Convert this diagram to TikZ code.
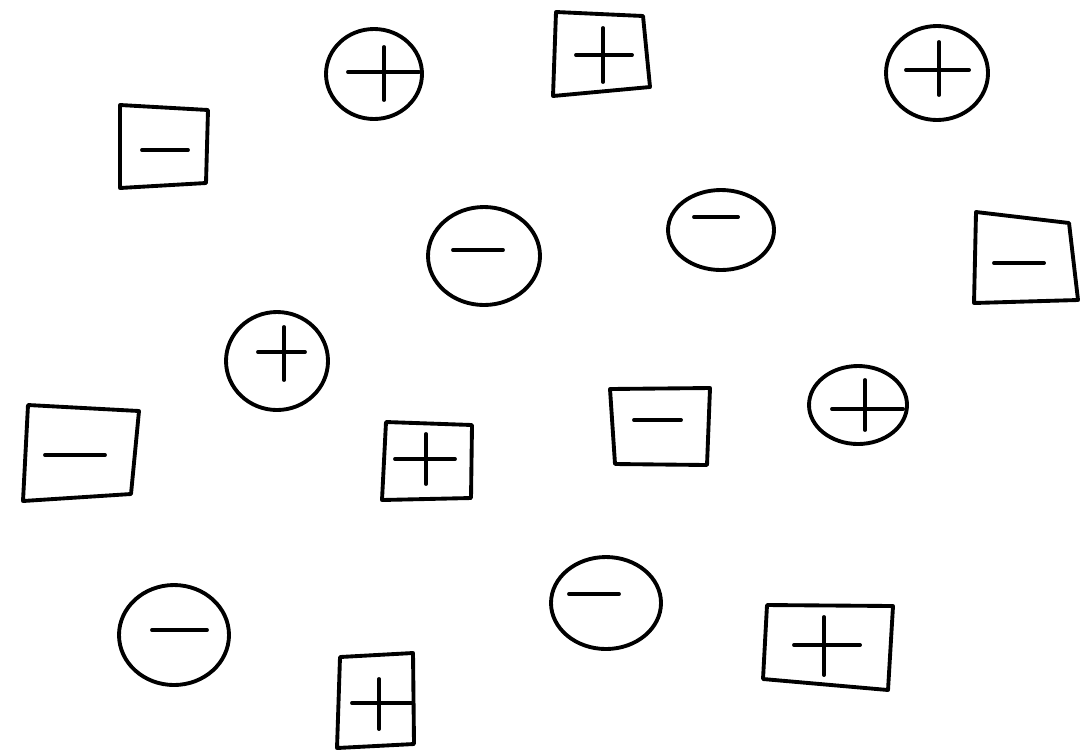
\documentclass[tikz,border=0pt]{standalone}
\usepackage{tikz}
\tikzset{
  stroke/.style = {draw, line width=1.1pt, line cap=round, line join=round},
  sign/.style   = {line width=1.1pt, line cap=round},
}
\begin{document}
\begin{tikzpicture}[x=0.01cm, y=-0.01cm]
  \useasboundingbox (0,0) rectangle (1083,754);
  \foreach \cx/\cy/\rx/\ry in {374/74/48/45, 484/256/56/49, 277/361/51/49,
                               937/73/51/47, 721/230/53/40, 174/635/55/50,
                               858/405/49/39, 606/603/55/46}
    \draw[stroke] (\cx,\cy) ellipse [x radius=\rx, y radius=\ry];
  \foreach \ax/\ay/\bx/\by/\cx/\cy/\dx/\dy in {
      120/105/208/110/206/183/120/188,
      556/12/643/16/650/87/553/96,
      976/212/1069/223/1078/300/974/303,
      28/405/139/411/131/494/23/501,
      386/422/472/425/471/498/382/500,
      340/657/413/653/414/744/337/748,
      610/389/710/388/707/465/615/464,
      767/605/893/606/888/690/763/679}
    \draw[stroke] (\ax,\ay) -- (\bx,\by) -- (\cx,\cy) -- (\dx,\dy) -- cycle;
  \foreach \xa/\xb/\yh/\xv/\ya/\yb in {348/419/72/384/47/100,
      258/305/352/284/327/380, 576/632/55/603/28/82,
      906/969/70/939/42/95, 395/455/459/426/434/484,
      352/412/703/379/679/729, 832/903/409/865/380/430,
      794/860/645/824/617/675}
  {
    \draw[sign] (\xa,\yh) -- (\xb,\yh);
    \draw[sign] (\xv,\ya) -- (\xv,\yb);
  }
  \foreach \xa/\xb/\y in {142/188/150, 453/503/250, 694/738/217,
      994/1044/263, 45/105/455, 152/207/630, 634/681/420, 569/619/594}
    \draw[sign] (\xa,\y) -- (\xb,\y);
\end{tikzpicture}
\end{document}
